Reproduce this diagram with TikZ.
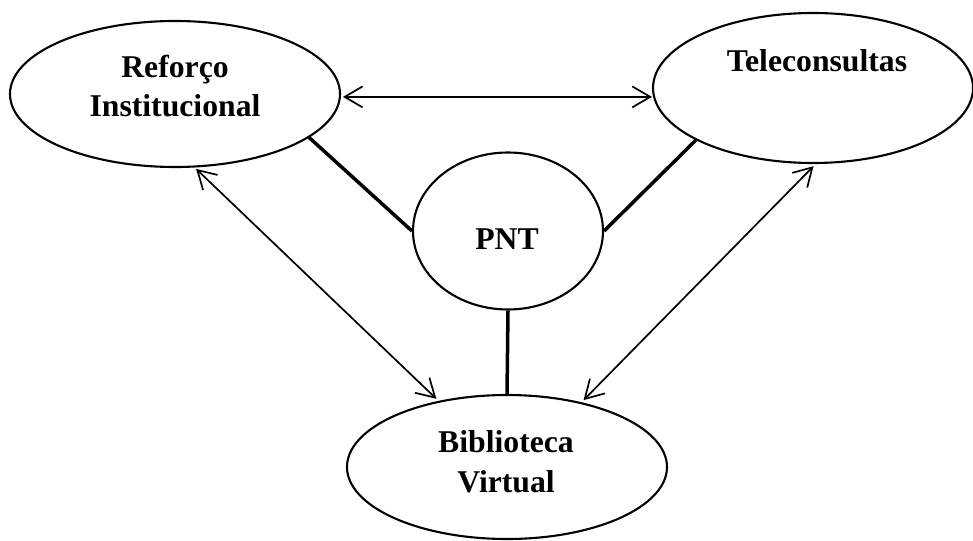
\documentclass[tikz,border=0pt]{standalone}
\usepackage{fontspec}
\setmainfont{Liberation Serif}
\usetikzlibrary{arrows.meta,shapes.geometric}
\begin{document}
\begin{tikzpicture}[x=1pt,y=-1pt,
  bubble/.style={ellipse, draw, line width=2.1pt, inner sep=0pt},
  caption/.style={font=\bfseries\fontsize{31.7}{39.5}\selectfont, align=center, inner sep=0pt},
  link/.style={line width=3.5pt},
  both/.style={line width=1.7pt, line join=miter,
    {Straight Barb[length=18pt,width=21pt]}-{Straight Barb[length=18pt,width=21pt]}},
]
\useasboundingbox (0,0) rectangle (973,540);

% the four bubbles
\node[bubble, minimum width=330pt, minimum height=146pt] (reforco) at (175,94) {};
\node[bubble, minimum width=320pt, minimum height=150pt] (tele) at (813,88) {};
\node[bubble, minimum width=190pt, minimum height=157pt] (pnt) at (508,231) {};
\node[bubble, minimum width=320pt, minimum height=144pt] (biblio) at (507,467) {};

% their captions
\node[caption] (reforco-text) at (175,86) {Reforço\\Institucional};
\node[caption] (tele-text) at (817,61) {Teleconsultas};
\node[caption] (pnt-text) at (507,239) {PNT};
\node[caption] (biblio-text) at (506,461.5) {Biblioteca\\Virtual};

% two-way relations between the outer bubbles
\draw[both, shorten <=2pt] (reforco.-1.4) -- (reforco.-1.4 -| tele.west);
\draw[both, shorten <=2pt, shorten >=3pt] (reforco.-75) -- (biblio.136.7);
\draw[both, shorten <=3pt, shorten >=3pt] (biblio.41) -- (tele.-88.5);

% links from the central PNT bubble
\draw[link] (reforco.-18) -- (pnt.west);
\draw[link] (pnt.east) -- (tele.204);
\draw[link] (pnt.south) -- (biblio.north);
\end{tikzpicture}
\end{document}
